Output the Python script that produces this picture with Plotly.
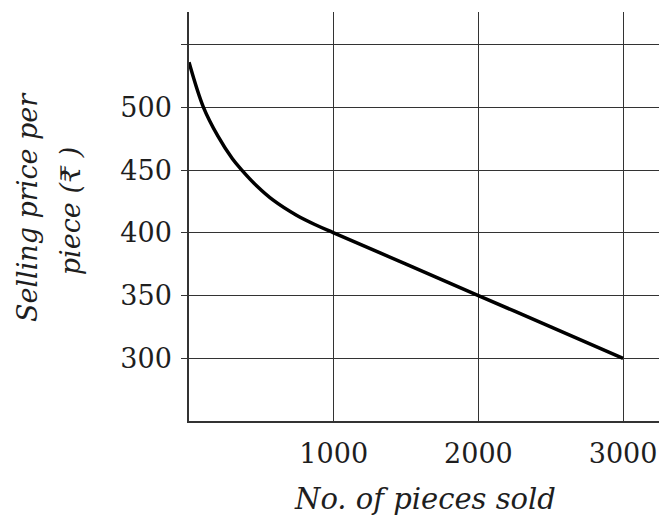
import plotly.graph_objects as go

# Data
pieces_sold = [0, 100, 200, 300, 365, 467, 582, 743, 881, 1000, 1500, 2000, 2500, 3000]
price_per_piece = [536, 500, 477, 459, 450, 437.5, 426, 414, 406, 400, 375, 350, 325, 300]

x_tick_vals = [1000, 2000, 3000]
x_tick_text = ["1000", "2000", "3000"]
y_tick_vals = [300, 350, 400, 450, 500, 550]
y_tick_text = ["300", "350", "400", "450", "500", ""]

x_title = "No. of pieces sold"
y_title_lines = ["Selling price per", "piece (₹ )"]

font_family = "DejaVu Serif, Liberation Serif, serif"
grid_color = "#333333"
text_color = "#1e1e1e"

fig = go.Figure()
fig.add_trace(go.Scatter(
    x=pieces_sold, y=price_per_piece, mode="lines",
    line=dict(color="black", width=3.5, shape="spline", smoothing=1.0),
    showlegend=False, hoverinfo="skip",
))

fig.update_layout(
    width=667, height=516,
    margin=dict(l=181, r=15, t=4, b=103),
    paper_bgcolor="white", plot_bgcolor="white",
    font=dict(family=font_family, color=text_color, size=24),
    xaxis=dict(
        range=[0, 3255], tickvals=x_tick_vals, ticktext=x_tick_text,
        showgrid=True, gridcolor=grid_color, gridwidth=1.3,
        showline=True, linecolor=grid_color, linewidth=1.5,
        zeroline=False, ticks="", ticklabelstandoff=8,
        tickfont=dict(family=font_family, size=27, color=text_color),
    ),
    yaxis=dict(
        range=[250, 576], tickvals=y_tick_vals, ticktext=y_tick_text,
        showgrid=True, gridcolor=grid_color, gridwidth=1.3,
        showline=True, linecolor=grid_color, linewidth=1.5,
        zeroline=False, ticks="outside", ticklen=6, tickcolor=grid_color,
        ticklabelstandoff=4,
        tickfont=dict(family=font_family, size=27, color=text_color),
    ),
    annotations=[
        dict(text=f"<i>{x_title}</i>", xref="paper", yref="paper",
             x=0.5, y=-0.19, xanchor="center", yanchor="middle",
             showarrow=False,
             font=dict(family=font_family, size=29, color=text_color)),
        dict(text=f"<i>{y_title_lines[0]}</i>", xref="paper", yref="paper",
             x=-0.344, y=0.523, xanchor="center", yanchor="middle",
             textangle=-90, showarrow=False,
             font=dict(family=font_family, size=27, color=text_color)),
        dict(text=f"<i>{y_title_lines[1]}</i>", xref="paper", yref="paper",
             x=-0.2527, y=0.513, xanchor="center", yanchor="middle",
             textangle=-90, showarrow=False,
             font=dict(family=font_family, size=27, color=text_color)),
    ],
)

fig.write_html("out.html")
